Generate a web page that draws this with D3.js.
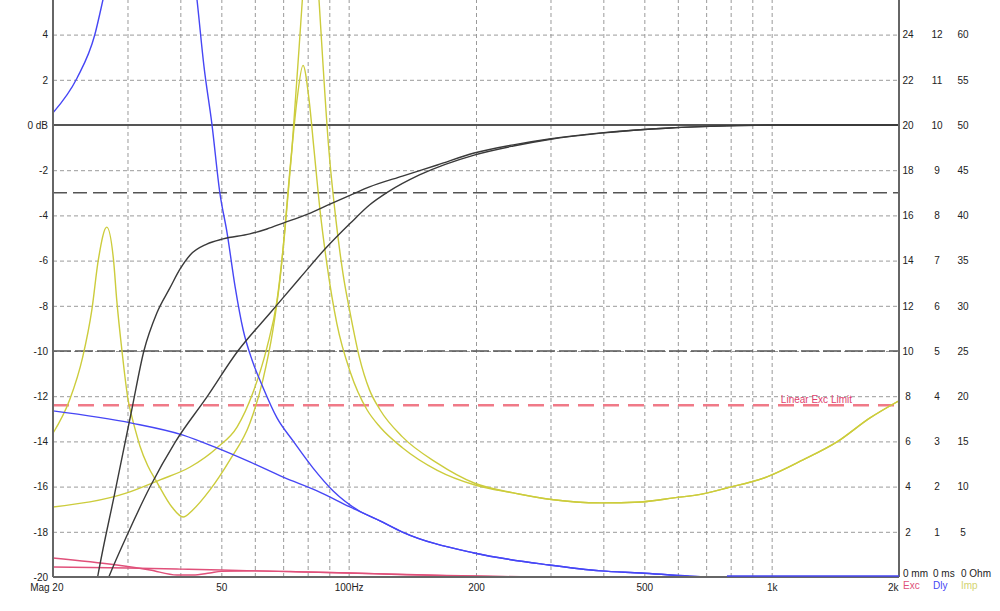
<!DOCTYPE html>
<html><head><meta charset="utf-8">
<script src="https://cdn.jsdelivr.net/npm/d3@7"></script>
<style>
body{margin:0;background:#fff;}
text{font-family:"Liberation Sans",Arial,sans-serif;font-size:10px;fill:#222;}
</style></head>
<body><svg id="c" width="1000" height="611"></svg>
<script>
// ---- data (frequency in Hz) ----
const magFreqA = [24, 25.5, 28.0, 30.7, 32.8, 35.2, 37.8, 39.95, 42.2, 46.2, 50.5, 58.4, 64.1, 70, 80, 90.3, 101, 112, 134, 162, 198, 245, 298, 395, 575, 784, 1046, 2000];
const magA     = [-23, -20, -16.28, -12.61, -10.0, -8.32, -7.21, -6.37, -5.75, -5.27, -5.04, -4.82, -4.60, -4.34, -3.94, -3.50, -3.10, -2.74, -2.26, -1.77, -1.24, -0.88, -0.62, -0.35, -0.13, -0.04, 0, 0];
const magFreqB = [25.5, 27.1, 30.1, 33.9, 38.9, 46.2, 54.7, 65.2, 76.7, 87.9, 101, 112, 123.9, 147, 198, 245, 298, 395, 575, 784, 1046, 2000];
const magB     = [-21.3, -20, -18.05, -16.02, -14.03, -12.04, -10.0, -8.32, -6.77, -5.49, -4.34, -3.54, -2.96, -2.21, -1.33, -0.93, -0.64, -0.36, -0.13, -0.04, 0, 0];

const dlyFreqA = [20, 22.8, 25.1, 26.25, 28.0, 30, 33.9, 36.9, 39.6, 42.2, 43.8, 45.5, 47.5, 49.6, 51.6, 53.9, 56.3, 59.1, 62.7, 67.7, 73.9, 82.4, 91.8, 106, 118.6, 134, 198, 298, 395, 491, 641, 784, 2000];
const dlyA     = [10.27, 11.04, 11.99, 12.77, 14.0, 15.75, 17.0, 17.25, 15.75, 14.05, 12.77, 11.29, 10.02, 8.50, 7.61, 6.42, 5.47, 4.8, 4.2, 3.52, 3.01, 2.41, 1.91, 1.46, 1.24, 0.995, 0.53, 0.265, 0.135, 0.09, 0.02, 0, 0];
const dlyFreqB = [20, 30.7, 40.6, 48.8, 58.4, 70, 84.2, 100.7, 118.6, 134, 198, 298, 395, 491, 641, 784, 2000];
const dlyB     = [3.675, 3.405, 3.14, 2.855, 2.545, 2.21, 1.905, 1.55, 1.24, 0.995, 0.53, 0.265, 0.135, 0.09, 0.02, 0, 0];

const impFreqA = [20, 21.9, 23.5, 24.7, 25.6, 26.8, 27.8, 28.3, 29.1, 30.1, 30.7, 31.4, 32.1, 33.5, 35.2, 38.2, 40.6, 42.8, 47.0, 52.4, 58.4, 62.7, 66.2, 68.8, 73.4, 75.5, 78.0, 80.6, 82.8, 85.6, 88.9, 93.8, 101, 110.5, 118.6, 134, 162, 198, 245, 298, 395, 491, 587, 688, 784, 975, 1186, 1427, 1708, 2000];
const impA     = [15.9, 19.6, 24.3, 29.5, 35.1, 38.7, 35.1, 30.6, 25.1, 19.6, 17.8, 16.05, 14.5, 12.3, 10.5, 7.75, 6.64, 7.42, 9.63, 12.95, 17.0, 21.8, 27.3, 32.9, 47.3, 52.8, 56.6, 52.8, 47.3, 40.5, 34.5, 28.0, 22.6, 18.5, 16.6, 14.3, 11.8, 10.2, 9.3, 8.6, 8.2, 8.3, 8.75, 9.2, 9.85, 11.07, 12.95, 14.94, 17.6, 19.5];
const impFreqB = [20, 29.9, 35.8, 42.2, 48.8, 54.5, 59.4, 64.1, 67.7, 70.7, 73.4, 77.7, 81.5, 85.1, 89.8, 93.3, 97, 101, 106, 112, 118.6, 134, 162, 198, 245, 298, 395, 491, 587, 688, 784, 975, 1186, 1427, 1708, 2000];
const impB     = [7.75, 9.3, 10.74, 12.17, 14.28, 16.6, 20.4, 25.4, 30.6, 38.4, 47.2, 63.8, 78, 63.8, 47.2, 39.5, 33.5, 29.0, 24.3, 20.7, 18.5, 15.5, 12.6, 10.4, 9.3, 8.6, 8.2, 8.3, 8.75, 9.2, 9.85, 11.07, 12.95, 14.94, 17.6, 19.5];

const excFreqA = [20, 28.3, 33.9, 39.3, 42.8, 47, 50, 60, 80, 100, 130, 170, 220, 300, 2000];
const excA     = [0.84, 0.53, 0.31, 0.09, 0.09, 0.18, 0.25, 0.27, 0.22, 0.18, 0.12, 0.07, 0.03, 0, 0];
const excFreqB = [20, 30, 40, 50, 60, 100, 137, 180, 260, 2000];
const excB     = [0.44, 0.40, 0.35, 0.31, 0.27, 0.18, 0.10, 0.05, 0, 0];

const excLimit = 7.6;        // mm

const dbTicks  = [-20,-18,-16,-14,-12,-10,-8,-6,-4,-2,0,2,4];
const excTicks = [0,2,4,6,8,10,12,14,16,18,20,22,24];
const dlyTicks = [0,1,2,3,4,5,6,7,8,9,10,11,12];
const impTicks = [0,5,10,15,20,25,30,35,40,45,50,55,60];
const freqGrid = [30,40,50,60,70,80,90,100,200,300,400,500,600,700,800,900,1000];
const freqLabels = [20,50,100,200,500,1000,2000];
const freqLabelText = ["Mag 20","50","100Hz","200","500","1k","2k"];

// ---- layout ----
const L=53, R=899, T=0, B=577;
const svg = d3.select("#c");
const x = d3.scaleLog().domain([20,2000]).range([L,R]);
const topDb = 125/22.6;
const yDb  = d3.scaleLinear().domain([-20, topDb]).range([B,T]);
const span = 20 + topDb;
const yExc = d3.scaleLinear().domain([0, span]).range([B,T]);
const yDly = d3.scaleLinear().domain([0, span/2]).range([B,T]);
const yImp = d3.scaleLinear().domain([0, span*2.5]).range([B,T]);

// grid
svg.append("g").attr("transform",`translate(0,${B})`)
  .call(d3.axisBottom(x).tickValues(freqGrid).tickSize(-(B-T)).tickFormat(""))
  .call(g=>g.select(".domain").remove())
  .call(g=>g.selectAll("line").attr("stroke","#9a9a9a").attr("stroke-dasharray","4,3"));
svg.append("g").attr("transform",`translate(${L},0)`)
  .call(d3.axisLeft(yDb).tickValues(dbTicks.filter(d=>d!==0&&d!==-20)).tickSize(-(R-L)).tickFormat(""))
  .call(g=>g.select(".domain").remove())
  .call(g=>g.selectAll("line").attr("stroke","#9a9a9a").attr("stroke-dasharray","4,3"));

// reference lines
svg.append("line").attr("x1",L).attr("x2",R).attr("y1",yDb(0)).attr("y2",yDb(0))
  .attr("stroke","#555").attr("stroke-width",1.8);
svg.append("line").attr("x1",L).attr("x2",R).attr("y1",yDb(-3)).attr("y2",yDb(-3))
  .attr("stroke","#555").attr("stroke-width",1.5).attr("stroke-dasharray","14,6");
svg.append("line").attr("x1",L).attr("x2",R).attr("y1",yDb(-10)).attr("y2",yDb(-10))
  .attr("stroke","#555").attr("stroke-width",1.5).attr("stroke-dasharray","18,4");
svg.append("line").attr("x1",L).attr("x2",R).attr("y1",yExc(excLimit)).attr("y2",yExc(excLimit))
  .attr("stroke","#f07a88").attr("stroke-width",2.5).attr("stroke-dasharray","16,9");
svg.append("text").attr("x",852).attr("y",yExc(excLimit)-2).attr("text-anchor","end")
  .style("fill","#e0406c").text("Linear Exc Limit");

// curves
svg.append("clipPath").attr("id","clip").append("rect")
  .attr("x",L).attr("y",T).attr("width",R-L).attr("height",B-T+1);
const cg = svg.append("g").attr("clip-path","url(#clip)");
function draw(fr, vals, ys, color){
  const pts = fr.map((f,i)=>[f, vals[i]]);
  cg.append("path").datum(pts)
    .attr("d", d3.line().x(d=>x(d[0])).y(d=>ys(d[1])).curve(d3.curveMonotoneX))
    .attr("fill","none").attr("stroke",color).attr("stroke-width",1.4);
}
draw(excFreqA, excA, yExc, "#e0507a");
draw(excFreqB, excB, yExc, "#e0507a");
draw(impFreqA, impA, yImp, "#cccc3c");
draw(impFreqB, impB, yImp, "#cccc3c");
draw(dlyFreqA, dlyA, yDly, "#4646f5");
draw(dlyFreqB, dlyB, yDly, "#4646f5");
draw(magFreqA, magA, yDb, "#3a3a3a");
draw(magFreqB, magB, yDb, "#3a3a3a");

// axis frame lines
svg.append("line").attr("x1",L).attr("x2",L).attr("y1",T).attr("y2",B).attr("stroke","#666").attr("stroke-width",2);
svg.append("line").attr("x1",R).attr("x2",R).attr("y1",T).attr("y2",B).attr("stroke","#666").attr("stroke-width",2);
svg.append("line").attr("x1",L).attr("x2",R).attr("y1",B).attr("y2",B).attr("stroke","#666").attr("stroke-width",2);
// delay curve where it lies on the bottom frame
const tail = dlyFreqA.map((f,i)=>[f,dlyA[i]]).filter(d=>d[0]>=700);
svg.append("path").datum(tail).attr("d",d3.line().x(d=>x(d[0])).y(d=>yDly(d[1])-1))
  .attr("fill","none").attr("stroke","#4646f5").attr("stroke-width",1.4);

// left axis labels
svg.append("g").attr("transform",`translate(${L},0)`)
  .call(d3.axisLeft(yDb).tickValues(dbTicks).tickSize(0).tickPadding(5)
        .tickFormat(d=>d===0?"0 dB":String(d)))
  .call(g=>g.select(".domain").remove())
  .call(g=>g.selectAll("text").style("font-size","10px").style("font-family","Liberation Sans, Arial"));

// bottom labels
svg.append("g").attr("transform",`translate(0,${B})`)
  .call(d3.axisBottom(x).tickValues(freqLabels).tickSize(0).tickPadding(7)
        .tickFormat((d,i)=>freqLabelText[i]))
  .call(g=>g.select(".domain").remove())
  .call(g=>g.selectAll("text").style("font-size","10px").style("font-family","Liberation Sans, Arial"))
  .call(g=>{
    g.selectAll(".tick").filter(d=>d===20).select("text").attr("text-anchor","end").attr("x",10);
    g.selectAll(".tick").filter(d=>d===2000).select("text").attr("text-anchor","end").attr("x",-1);
  });

// right axes
function rightAxis(scale, ticks, cx, zeroText, zeroX){
  const g = svg.append("g").attr("transform",`translate(${cx},0)`)
    .call(d3.axisRight(scale).tickValues(ticks).tickSize(0).tickPadding(0)
          .tickFormat(d=>d===0?zeroText:String(d)));
  g.select(".domain").remove();
  g.selectAll("text").attr("text-anchor","middle").style("font-size","10px").style("font-family","Liberation Sans, Arial");
  g.selectAll(".tick").filter(d=>d===0).select("text").attr("text-anchor","start").attr("x",zeroX-cx).attr("dy","-0.05em");
}
rightAxis(yExc, excTicks, 908, "0 mm", 903);
rightAxis(yDly, dlyTicks, 937, "0 ms", 933);
rightAxis(yImp, impTicks, 963, "0 Ohm", 961);

// legend
const legend = [["Exc",903,"#e0507a"],["Dly",933,"#4646f5"],["Imp",961,"#d4d470"]];
svg.selectAll("text.leg").data(legend).enter().append("text").attr("class","leg")
  .attr("x",d=>d[1]).attr("y",589).style("fill",d=>d[2]).text(d=>d[0]);
</script></body></html>
